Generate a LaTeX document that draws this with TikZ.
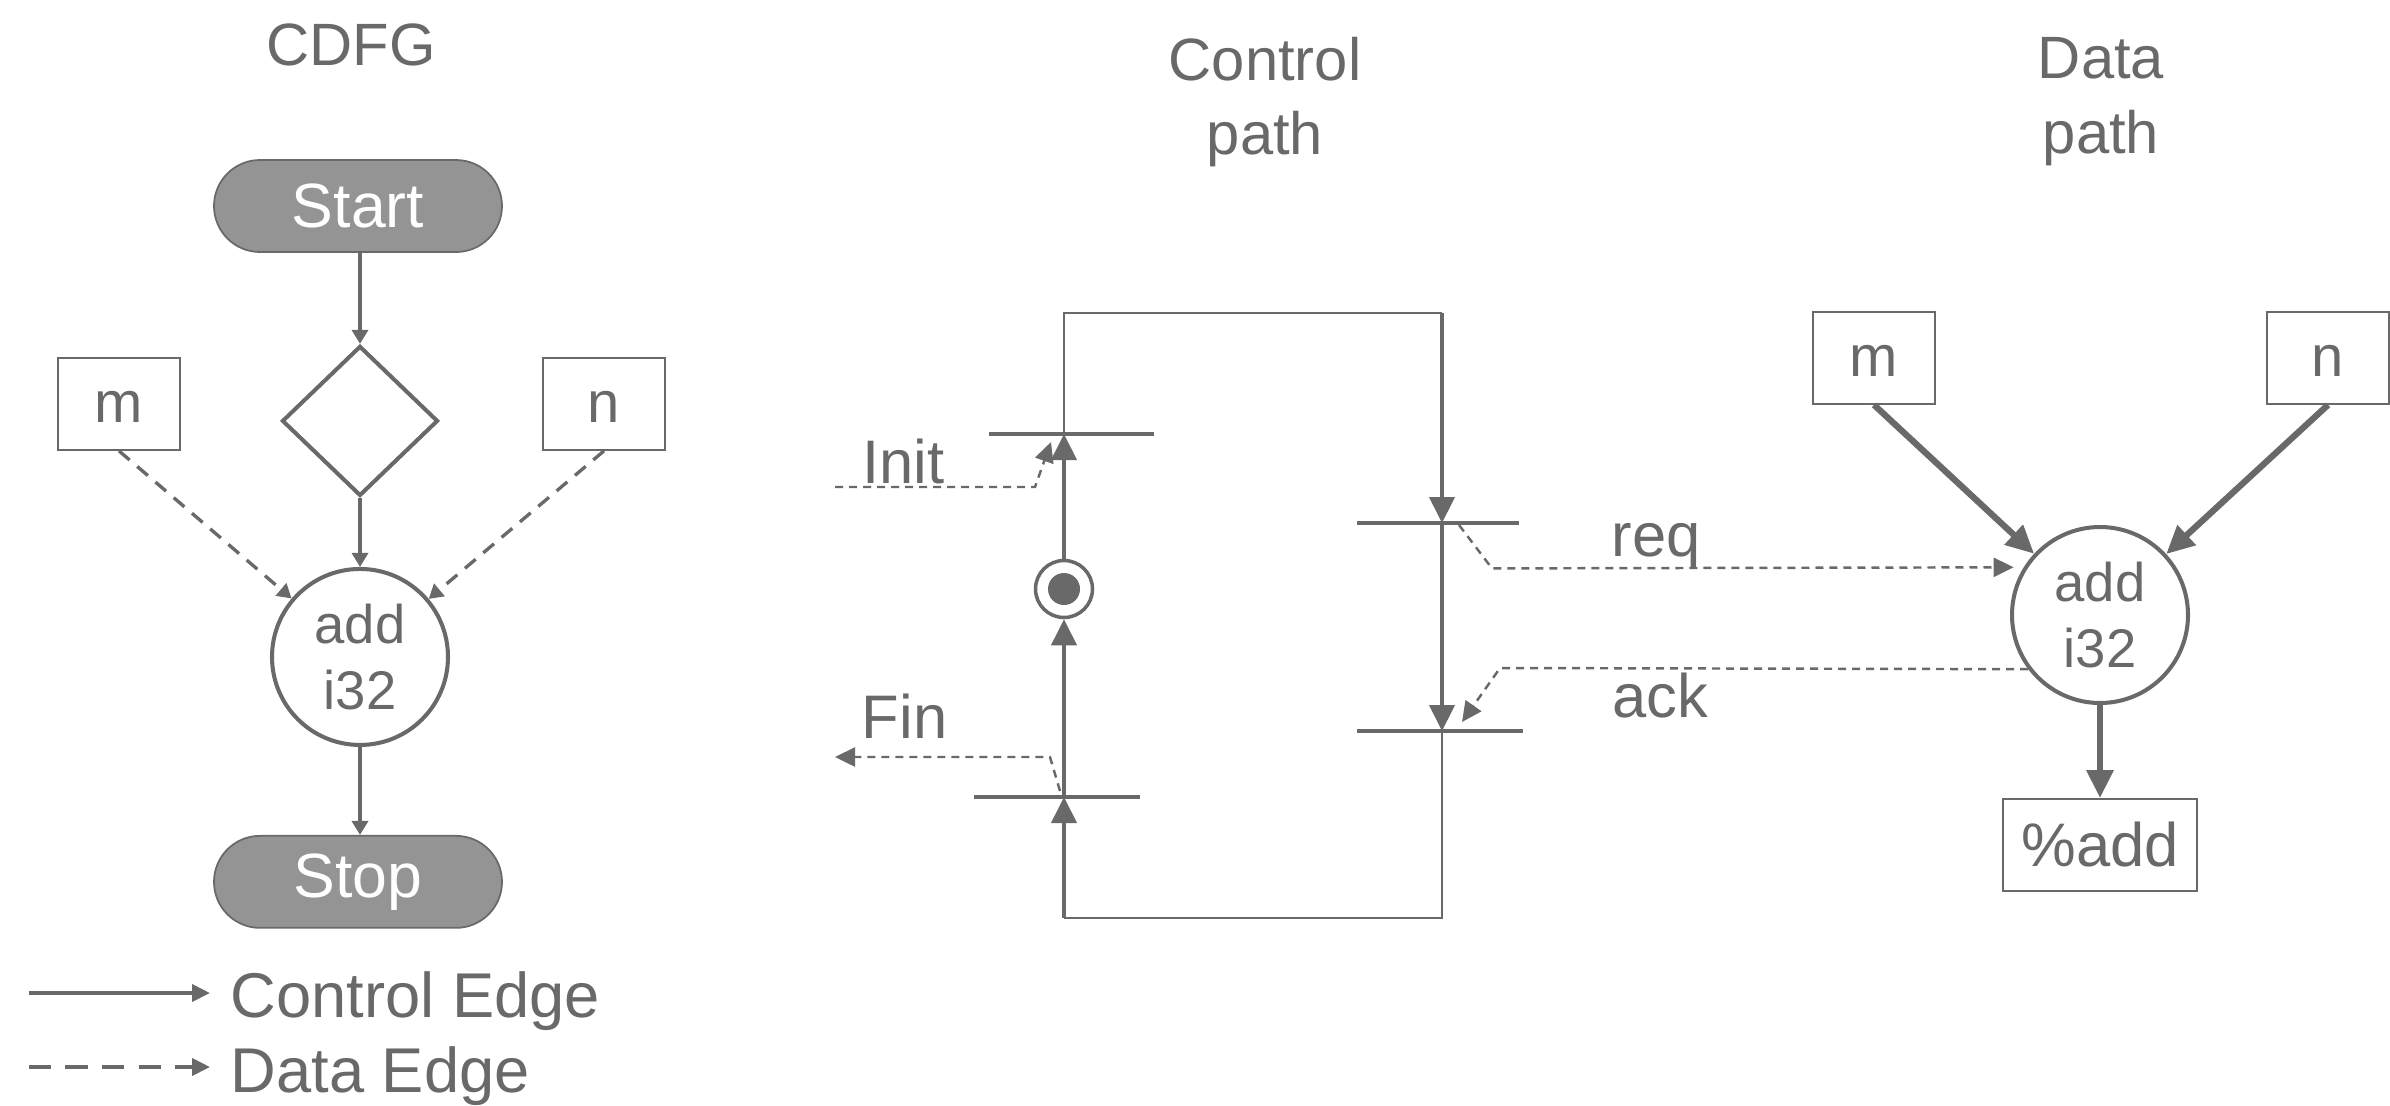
\documentclass[tikz,border=0pt]{standalone}
\usepackage{fontspec}
\setmainfont{Liberation Sans}
\usepackage{tikz}
\usetikzlibrary{positioning,arrows.meta,shapes.geometric}
\definecolor{linegray}{RGB}{105,105,105}
\definecolor{pillgray}{RGB}{148,148,148}
\tikzset{
  title/.style   = {font=\fontsize{17}{21.3}\selectfont, align=center, text=linegray},
  lbl/.style     = {font=\fontsize{17.5}{21}\selectfont, text=linegray, inner sep=0pt},
  pill/.style    = {draw=linegray, fill=pillgray, rounded corners=4.6mm, minimum width=28.8mm, minimum height=9.2mm, text=white, font=\fontsize{17.8}{21}\selectfont, line width=0.5pt},
  vbox/.style    = {draw=linegray, line width=0.5pt, minimum width=12.2mm, minimum height=9.2mm, inner sep=0pt, text=linegray, font=\fontsize{16.5}{20}\selectfont, text height=1.04em, text depth=0pt},
  op/.style      = {circle, draw=linegray, line width=1.15pt, minimum size=17.6mm, inner sep=0pt, align=center, text=linegray, font=\fontsize{15.5}{18.8}\selectfont},
  cond/.style    = {diamond, draw=linegray, line width=1.15pt, minimum width=15.6mm, minimum height=15mm, inner sep=0pt},
  place/.style   = {circle, draw=linegray, line width=1pt, fill=white, minimum size=5.7mm, inner sep=0pt},
  bar/.style     = {rectangle, fill=linegray, minimum height=1pt, inner sep=0pt, outer sep=0pt},
  cedge/.style   = {-{Triangle[length=1.4mm,width=1.6mm]}, line width=0.95pt, draw=linegray},
  dedge/.style   = {cedge, dash pattern=on 1.4mm off 1mm},
  rail/.style    = {-{Triangle[length=2.6mm,width=2.5mm]}, line width=1.15pt, draw=linegray},
  thinrail/.style= {line width=0.55pt, draw=linegray, line join=miter},
  sig/.style     = {-{Triangle[length=2mm,width=1.9mm]}, line width=0.7pt, draw=linegray, dash pattern=on 0.8mm off 0.6mm},
  dpedge/.style  = {-{Triangle[length=2.8mm,width=2.6mm]}, line width=1.8pt, draw=linegray},
  legc/.style    = {-{Triangle[length=1.8mm,width=1.7mm]}, line width=1.1pt, draw=linegray},
}

\begin{document}
\begin{tikzpicture}
  \useasboundingbox (0,0) rectangle (23.9,-11.05);

  % titles
  \node[title, anchor=base] (tcdfg) at (3.51,-0.65) {CDFG};
  \node[title] (tctrl) at (12.65,-1.02) {Control\\path};
  \node[title] (tdata) at (21.01,-1.02) {Data\\path};

  % CDFG
  \node[pill] (start) at (3.58,-2.06) {Start};
  \node[cond, below=9.1mm of start, xshift=0.2mm] (c0) {};
  \node[op, below=6.9mm of c0] (add1) {add\\i32};
  \node[pill, below=8.8mm of add1, xshift=-0.2mm] (stop) {Stop};
  \node[vbox] (m1) at (1.19,-4.04) {m};
  \node[vbox] (n1) at (6.04,-4.04) {n};
  \draw[cedge] (c0.north |- start.south) -- (c0);
  \draw[cedge] (c0) -- (add1);
  \draw[cedge] (add1) -- (add1.south |- stop.north);
  \draw[dedge] (m1.south) -- (add1);
  \draw[dedge] (n1.south) -- (add1);

  % legend
  \coordinate (lc0) at (0.29,-9.93);
  \coordinate (lc1) at (2.10,-9.93);
  \coordinate (ld0) at (0.29,-10.67);
  \coordinate (ld1) at (2.10,-10.67);
  \draw[legc] (lc0) -- (lc1);
  \draw[legc, dash pattern=on 2.2mm off 1.45mm] (ld0) -- (ld1);
  \node[lbl, font=\fontsize{18}{21}\selectfont, anchor=base west] (lgc) at (2.30,-10.17) {Control Edge};
  \node[lbl, font=\fontsize{18}{21}\selectfont, anchor=base west] (lgd) at (2.30,-10.92) {Data Edge};

  % control path
  \coordinate (tl) at (10.64,-3.13);
  \coordinate (tr) at (14.42,-3.13);
  \coordinate (br) at (14.42,-9.18);
  \coordinate (bl) at (10.64,-9.18);
  \node[bar, minimum width=16.5mm] (tinit) at (10.715,-4.34) {};
  \node[bar, minimum width=16.6mm] (tfin) at (10.57,-7.97) {};
  \node[bar, minimum width=16.2mm] (treq) at (14.38,-5.23) {};
  \node[bar, minimum width=16.6mm] (tack) at (14.40,-7.31) {};
  \node[place] (p0) at (10.64,-5.89) {};
  \fill[linegray] (p0.center) circle (1.6mm);

  \draw[rail] (bl) -- (tfin.center -| bl);
  \draw[rail] (tfin.center -| bl) -- (p0);
  \draw[rail] (p0) -- (tinit.center -| bl);
  \draw[thinrail] (tinit.center -| tl) -- (tl) -- (tr);
  \draw[rail] (tr) -- (treq.center -| tr);
  \draw[rail] (treq.center -| tr) -- (tack.center -| tr);
  \draw[thinrail] (tack.center -| br) -- (br) -- (bl);

  \node[lbl, anchor=base] (linit) at (9.035,-4.83) {Init};
  \node[lbl, anchor=base] (lfin) at (9.045,-7.38) {Fin};
  \node[lbl, anchor=base] (lreq) at (16.56,-5.56) {req};
  \node[lbl, anchor=base] (lack) at (16.60,-7.17) {ack};

  % data path
  \node[vbox] (m2) at (18.74,-3.58) {m};
  \node[vbox] (n2) at (23.28,-3.58) {n};
  \node[op] (add2) at (21.00,-6.15) {add\\i32};
  \node[vbox, minimum width=19.4mm, font=\fontsize{17.5}{21}\selectfont, text height=, text depth=, below=9.3mm of add2] (res) {\%add};
  \draw[dpedge] (m2.south) -- (add2);
  \draw[dpedge] (n2.south) -- (add2);
  \draw[dpedge] (add2) -- (res);

  % handshake signals
  \coordinate (initin) at (8.35,-4.87);
  \coordinate (initbend) at (10.35,-4.87);
  \coordinate (initend) at (10.51,-4.42);
  \coordinate (finstart) at (10.60,-7.91);
  \coordinate (finbend) at (10.50,-7.57);
  \coordinate (finout) at (8.35,-7.57);
  \coordinate (reqstart) at (14.59,-5.25);
  \coordinate (reqbend) at (14.92,-5.684);
  \coordinate (ackbend) at (15.00,-6.68);
  \coordinate (ackend) at (14.62,-7.22);
  \draw[sig] (initin) -- (initbend) -- (initend);
  \draw[sig] (finstart) -- (finbend) -- (finout);
  \draw[sig] (reqstart) -- (reqbend) -- ([xshift=-1mm]add2.148);
  \draw[sig] (add2.217) -- (ackbend) -- (ackend);
\end{tikzpicture}
\end{document}
